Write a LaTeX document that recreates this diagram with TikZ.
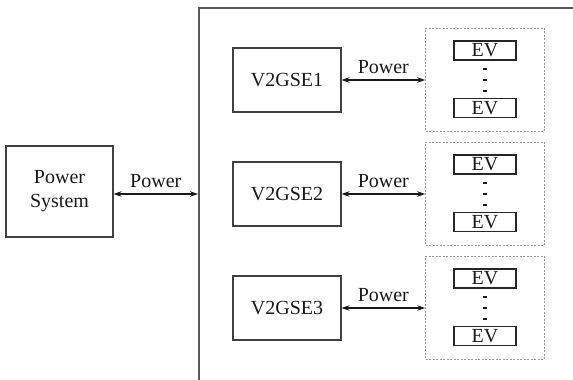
\documentclass[tikz,border=0pt]{standalone}
\usepackage{fontspec}
\setmainfont{Liberation Serif}
\usetikzlibrary{arrows.meta}
\begin{document}
\begin{tikzpicture}[x=1pt,y=-1pt,
  txt/.style={font=\fontsize{20}{22}\selectfont,text=black!90},
  box/.style={txt,draw=black!75,line width=1.1pt,inner sep=0pt,align=center,minimum width=108pt,minimum height=64pt},
  evbox/.style={draw=black!85,line width=1.1pt,minimum width=62pt,minimum height=19pt,inner sep=0pt,font=\fontsize{20}{20}\selectfont,text=black!90},
  grp/.style={draw=black!40,dash pattern=on 2pt off 1.5pt,line width=0.7pt,minimum width=119pt,minimum height=103pt,inner sep=0pt},
  dotn/.style={rectangle,fill=black!90,inner sep=0pt,minimum width=3.6pt,minimum height=2.6pt},
  conn/.style={{Stealth[length=8pt,width=5.5pt]}-{Stealth[length=8pt,width=5.5pt]},line width=1.1pt,draw=black!90},
  lbl/.style={txt,anchor=south,inner sep=6pt}]
\useasboundingbox (0,0) rectangle (573,380);
% frame
\coordinate (ftop) at (199,380);
\coordinate (fcorner) at (199,8);
\coordinate (fright) at (573,8);
\draw[black!65,line width=1.4pt] (ftop) -- (fcorner) -- (fright);
\coordinate (fin) at (198,194);
% power system
\node[box,minimum width=107pt,minimum height=91pt] (ps) at (59.5,191.5) {Power\\[2pt]System};
\draw[conn] (ps.east |- fin) -- node[lbl] {Power} (fin);
% rows
\foreach \i/\y in {1/80,2/194,3/308}{
  \node[box] (v\i) at (287,\y) {V2GSE\i};
  \node[grp] (g\i) at (485,\y-0.5) {};
  \node[evbox] (ea\i) at (485,\y-29.5) {EV};
  \node[evbox] (eb\i) at (485,\y+28) {EV};
  \node[dotn] (da\i) at (485,\y-11) {};
  \node[dotn] (db\i) at (485,\y) {};
  \node[dotn] (dc\i) at (485,\y+11) {};
  \draw[conn] (v\i.east) -- node[lbl] {Power} (v\i.east -| g\i.west);
}
\end{tikzpicture}
\end{document}
